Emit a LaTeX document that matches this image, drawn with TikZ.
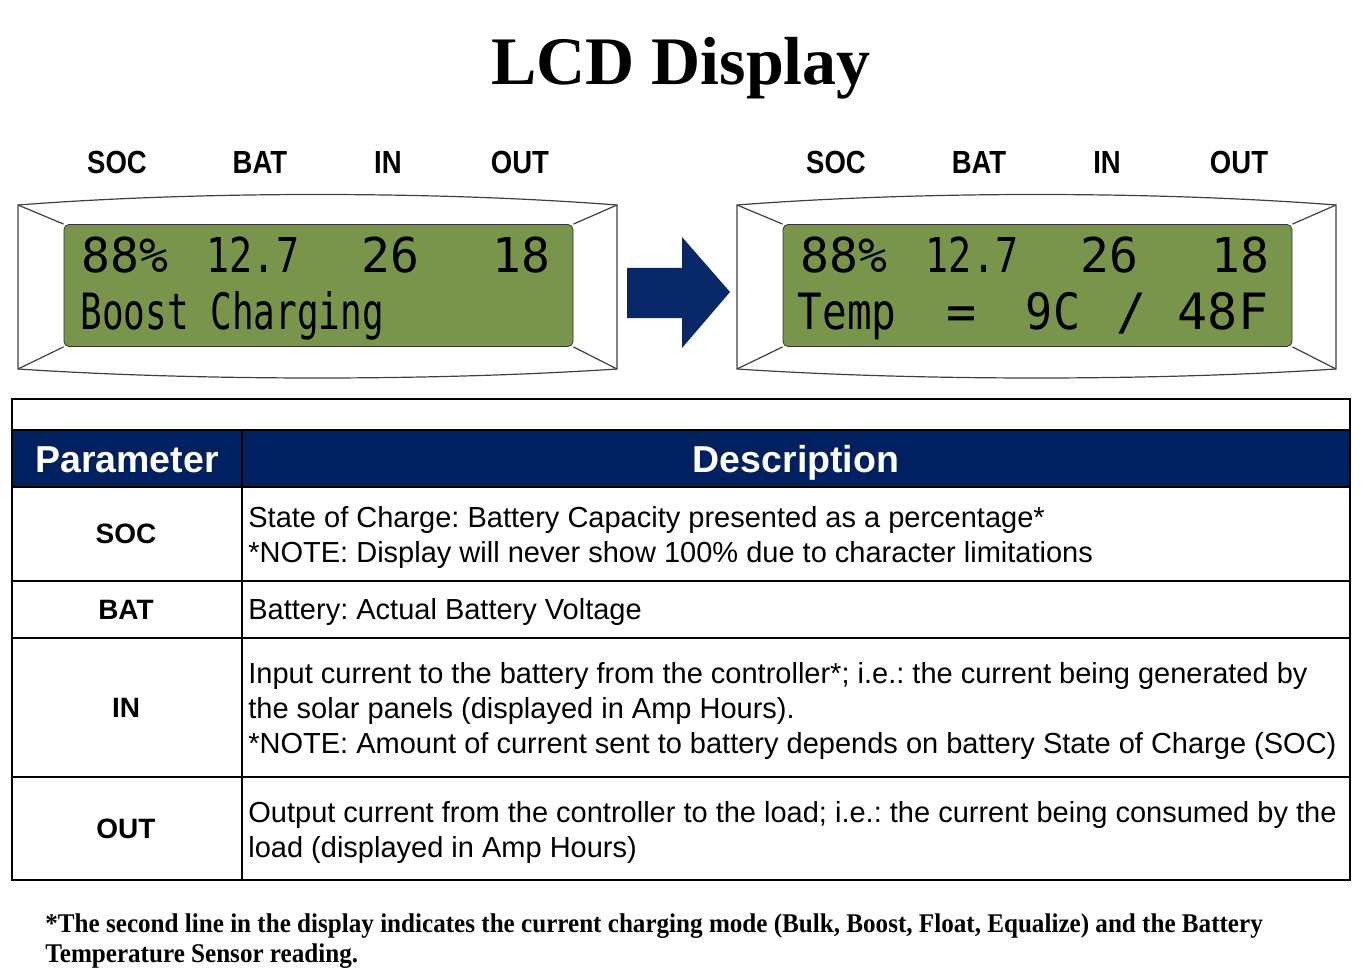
\documentclass[tikz,border=0pt]{standalone}
\usepackage{fontspec}
\usepackage{graphicx}
\usepackage{xcolor}
\setmainfont{Liberation Serif}
\setsansfont{Liberation Sans}
\newfontfamily\lcdfont{DejaVu Sans Mono}
\newfontfamily\tagfont[FakeStretch=0.86]{Liberation Sans}
\newfontfamily\notefont[FakeStretch=0.93]{Liberation Serif}
\definecolor{navy}{RGB}{0,32,96}
\definecolor{arrowblue}{RGB}{8,40,104}
\definecolor{lcdgreen}{RGB}{121,149,75}
\frenchspacing

\begin{document}
\begin{tikzpicture}[x=0.5pt,y=-0.5pt,
	tag/.style={font=\tagfont\bfseries\fontsize{16}{16}\selectfont, inner sep=0},
	lcd/.style={draw=black!80, fill=lcdgreen, rounded corners=2.5pt, minimum width=254.5pt, minimum height=61pt, inner sep=0},
	digits/.style={font=\lcdfont\fontsize{24}{24}\selectfont, anchor=base, inner sep=0},
	letters/.style={font=\lcdfont\fontsize{25}{25}\selectfont, anchor=base, inner sep=0},
	param/.style={font=\sffamily\bfseries\fontsize{14}{14}\selectfont, inner sep=0},
	cell/.style={font=\sffamily\fontsize{14.5}{17.5}\selectfont, align=left, anchor=west, inner sep=0},
	head/.style={font=\sffamily\bfseries\fontsize{18.75}{18.75}\selectfont, text=white, anchor=base, inner sep=0},
	note/.style={font=\notefont\bfseries\fontsize{13.5}{13.5}\selectfont, anchor=base west, inner sep=0}]

	\useasboundingbox (0,0) rectangle (1368,978);

	\node [font=\bfseries\fontsize{34}{34}\selectfont, anchor=base, inner sep=0] (title) at (681,85) {LCD Display};

	% the two displays
	\foreach \s/\dx in {A/0,B/719} {
		\begin{scope}[shift={(\dx,0)}]
			\coordinate (nw\s) at (18,205);
			\coordinate (ne\s) at (617,205);
			\coordinate (se\s) at (617,369);
			\coordinate (sw\s) at (18,369);
			\draw [black!75, line width=0.6pt] (nw\s) .. controls (200,191) and (435,191) .. (ne\s) -- (se\s) .. controls (435,381) and (200,381) .. (sw\s) -- cycle;
			\node [lcd] (lcd\s) at (318.5,285.5) {};
			\draw [black!75, line width=0.6pt] (nw\s) -- (lcd\s.north west);
			\draw [black!75, line width=0.6pt] (ne\s) -- (lcd\s.north east);
			\draw [black!75, line width=0.6pt] (se\s) -- (lcd\s.south east);
			\draw [black!75, line width=0.6pt] (sw\s) -- (lcd\s.south west);

			\node [tag] (tagSoc\s) at (117,162) {SOC};
			\node [tag] (tagBat\s) at (260,162) {BAT};
			\node [tag] (tagIn\s) at (388,162) {IN};
			\node [tag] (tagOut\s) at (520,162) {OUT};

			\node [digits] (valSoc\s) at (125,272) {88\%};
			\node [digits] (valBat\s) at (253,272) {\scalebox{0.8}[1]{12.7}};
			\node [digits] (valIn\s) at (390,272) {26};
			\node [digits] (valOut\s) at (521,272) {18};
		\end{scope}
	}

	\node [letters, anchor=base west] (modeA) at (80,329) {\scalebox{0.72}[1]{Boost Charging}};
	\node [letters] (tempB) at (847,329) {\scalebox{0.82}[1]{Temp}};
	\node [letters] (eqB) at (962,329) {=};
	\node [letters] (degcB) at (1053,329) {\scalebox{0.9}[1]{9C}};
	\node [letters] (slashB) at (1132,329) {/};
	\node [letters] (degfB) at (1223,329) {48F};

	\fill [arrowblue] (627,268) -- (682,268) -- (682,237) -- (730,292) -- (682,348) -- (682,318) -- (627,318) -- cycle;

	% table
	\begin{scope}[line width=1pt]
		\fill [navy] (12,430) rectangle (1350,487);
		\draw (12,399) rectangle (1350,880);
		\foreach \y in {430,487,581,638,777}
			\draw (12,\y) -- (1350,\y);
		\draw (242,430) -- (242,880);
	\end{scope}

	\node [head] (hdPar) at (127,472) {Parameter};
	\node [head] (hdDesc) at (796,472) {Description};

	\node [param] (parSoc) at (126,534) {SOC};
	\node [param] (parBat) at (126,610) {BAT};
	\node [param] (parIn) at (126,708) {IN};
	\node [param] (parOut) at (126,829) {OUT};

	\node [cell] (txtSoc) at (248,537) {State of Charge: Battery Capacity presented as a percentage*\\*NOTE: Display will never show 100\% due to character limitations};
	\node [cell] (txtBat) at (248,612) {Battery: Actual Battery Voltage};
	\node [cell] (txtIn) at (248,711) {Input current to the battery from the controller*; i.e.: the current being generated by\\the solar panels (displayed in Amp Hours).\\*NOTE: Amount of current sent to battery depends on battery State of Charge (SOC)};
	\node [cell] (txtOut) at (248,832) {Output current from the controller to the load; i.e.: the current being consumed by the\\load (displayed in Amp Hours)};

	\node [note] (noteA) at (45,932) {*The second line in the display indicates the current charging mode (Bulk, Boost, Float, Equalize) and the Battery};
	\node [note] (noteB) at (45,962) {Temperature Sensor reading.};
\end{tikzpicture}
\end{document}
